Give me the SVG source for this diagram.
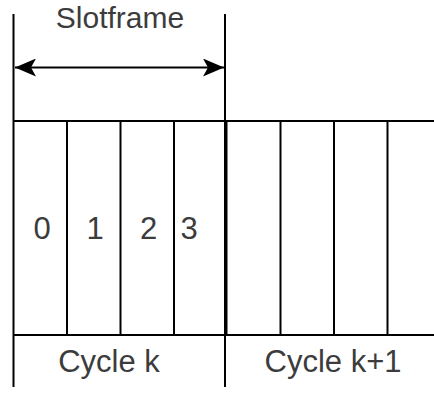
<svg xmlns="http://www.w3.org/2000/svg" width="434" height="394" viewBox="0 0 434 394">
  <style>
    .ln { stroke: #000; stroke-width: 2; fill: none; }
    .lbl { font-family: "Liberation Sans", Arial, sans-serif; font-size: 31px; fill: #3c3c3c; text-anchor: middle; }
  </style>
  <defs>
    <marker id="head" viewBox="0 0 22 18" refX="21" refY="9" markerWidth="22" markerHeight="18" markerUnits="userSpaceOnUse" orient="auto-start-reverse">
      <path d="M21,9 L0,0 L5,9 L0,18 Z" fill="#000"/>
    </marker>
  </defs>

  <!-- slot grid: outer rows and slot dividers -->
  <g id="grid">
    <line class="ln" x1="13.5" y1="121" x2="434" y2="121"/>
    <line class="ln" x1="13.5" y1="335" x2="434" y2="335"/>
    <line class="ln" x1="67" y1="121" x2="67" y2="335"/>
    <line class="ln" x1="120.5" y1="121" x2="120.5" y2="335"/>
    <line class="ln" x1="174" y1="121" x2="174" y2="335"/>
    <line class="ln" x1="226.5" y1="121" x2="226.5" y2="335"/>
    <line class="ln" x1="280.5" y1="121" x2="280.5" y2="335"/>
    <line class="ln" x1="334" y1="121" x2="334" y2="335"/>
    <line class="ln" x1="387.5" y1="121" x2="387.5" y2="335"/>
  </g>

  <!-- cycle boundaries -->
  <g id="bounds">
    <line class="ln" x1="13.5" y1="14" x2="13.5" y2="387"/>
    <line class="ln" x1="225" y1="14" x2="225" y2="387"/>
  </g>

  <!-- slotframe span -->
  <g id="connectors">
    <line class="ln" x1="15" y1="67.5" x2="224" y2="67.5" marker-start="url(#head)" marker-end="url(#head)"/>
  </g>

  <g id="slotframe-label"><text class="lbl" x="120" y="28" style="font-size:30px">Slotframe</text></g>
  <g id="slot-0"><text class="lbl" x="42" y="239">0</text></g>
  <g id="slot-1"><text class="lbl" x="95" y="239">1</text></g>
  <g id="slot-2"><text class="lbl" x="148.5" y="239">2</text></g>
  <g id="slot-3"><text class="lbl" x="189" y="239">3</text></g>
  <g id="cycle-k"><text class="lbl" x="109" y="372">Cycle k</text></g>
  <g id="cycle-k1"><text class="lbl" x="333" y="372">Cycle k+1</text></g>
</svg>
